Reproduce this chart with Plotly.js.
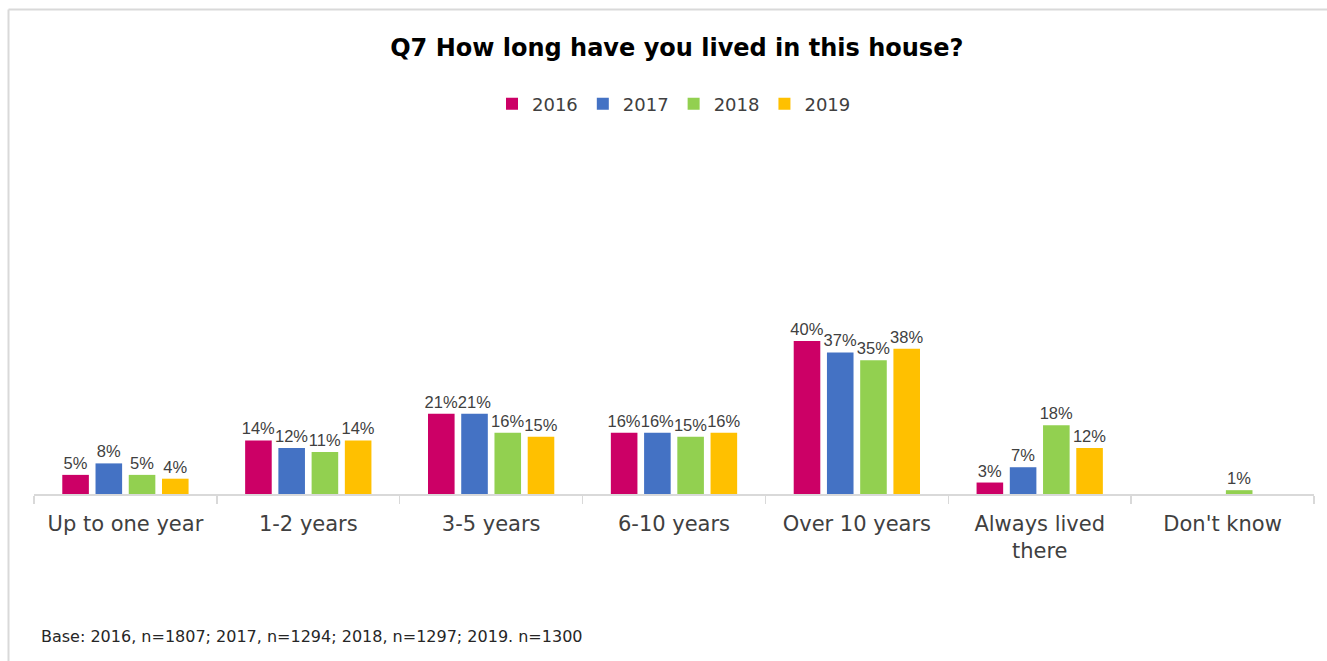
<!DOCTYPE html>
<html>
<head>
<meta charset="utf-8">
<script src="https://cdn.plot.ly/plotly-3.0.1.min.js"></script>
<style>
  html, body { margin: 0; padding: 0; background: #ffffff; }
  #chart { width: 1327px; height: 661px; }
</style>
</head>
<body>
<div id="chart"></div>
<script>
// ---- Data (percent) ----
const categories = ["Up to one year", "1-2 years", "3-5 years", "6-10 years", "Over 10 years", "Always lived<br>there", "Don't know"];
const years = ["2016", "2017", "2018", "2019"];
const values2016 = [5, 14, 21, 16, 40, 3, null];
const values2017 = [8, 12, 21, 16, 37, 7, null];
const values2018 = [5, 11, 16, 15, 35, 18, 1];
const values2019 = [4, 14, 15, 16, 38, 12, null];
const seriesValues = [values2016, values2017, values2018, values2019];
const colors = ["#CC0066", "#4472C4", "#92D050", "#FFC000"];
const titleText = "Q7 How long have you lived in this house?";
const footnote = "Base: 2016, n=1807; 2017, n=1294; 2018, n=1297; 2019. n=1300";

const FONT = "DejaVu Sans, Lato, sans-serif";
const LABEL_FONT = "Liberation Sans, Arial, sans-serif";
const TEXT_COLOR = "#404040";

const traces = years.map((yr, i) => ({
  type: "bar",
  name: yr,
  x: categories,
  y: seriesValues[i],
  marker: { color: colors[i] },
  texttemplate: "%{y}%",
  textposition: "outside",
  constraintext: "none",
  cliponaxis: false,
  textfont: { family: LABEL_FONT, size: 16.5, color: TEXT_COLOR },
  hoverinfo: "x+y+name"
}));

// geometry helpers (plot area: x 34..1314, y 130..494)
const L = 34, R = 13, T = 130, B = 167;
const PW = 1327 - L - R, PH = 661 - T - B;
const px = v => (v - L) / PW;
const py = v => (661 - B - v) / PH;

const layout = {
  width: 1327,
  height: 661,
  margin: { l: L, r: R, t: T, b: B },
  paper_bgcolor: "#ffffff",
  plot_bgcolor: "#ffffff",
  font: { family: FONT, color: TEXT_COLOR },
  title: {
    text: "<b>" + titleText + "</b>",
    font: { family: FONT, size: 24, color: "#000000" },
    x: 0.51, xanchor: "center",
    y: 1 - 48 / 661, yanchor: "middle"
  },
  barmode: "group",
  bargap: 0.273,
  bargroupgap: 0.2,
  showlegend: true,
  legend: {
    orientation: "h",
    x: 0.5, xanchor: "center",
    y: py(104), yanchor: "middle",
    font: { family: FONT, size: 18, color: TEXT_COLOR },
    itemwidth: 30,
    tracegroupgap: 0
  },
  xaxis: {
    type: "category",
    showline: true,
    linecolor: "#D9D9D9",
    linewidth: 1.5,
    ticks: "outside",
    tickson: "boundaries",
    ticklen: 8,
    tickcolor: "#D9D9D9",
    tickwidth: 1.5,
    ticklabelstandoff: 10,
    showgrid: false,
    tickfont: { family: FONT, size: 21, color: TEXT_COLOR },
    fixedrange: true
  },
  yaxis: {
    visible: false,
    range: [0, 40 * 364 / 153],
    showgrid: false,
    zeroline: false,
    fixedrange: true
  },
  shapes: [
    { type: "line", xref: "paper", yref: "paper", x0: px(8.5), x1: px(1335), y0: py(9.5), y1: py(9.5), line: { color: "#D9D9D9", width: 2 } },
    { type: "line", xref: "paper", yref: "paper", x0: px(8.5), x1: px(8.5), y0: py(9.5), y1: py(670), line: { color: "#D9D9D9", width: 2 } }
  ],
  annotations: [
    {
      text: footnote,
      xref: "paper", yref: "paper",
      x: px(39), xanchor: "left",
      y: py(636), yanchor: "middle",
      showarrow: false,
      font: { family: FONT, size: 16, color: "#262626" }
    }
  ]
};

Plotly.newPlot("chart", traces, layout, { displayModeBar: false, staticPlot: true });
</script>
</body>
</html>
